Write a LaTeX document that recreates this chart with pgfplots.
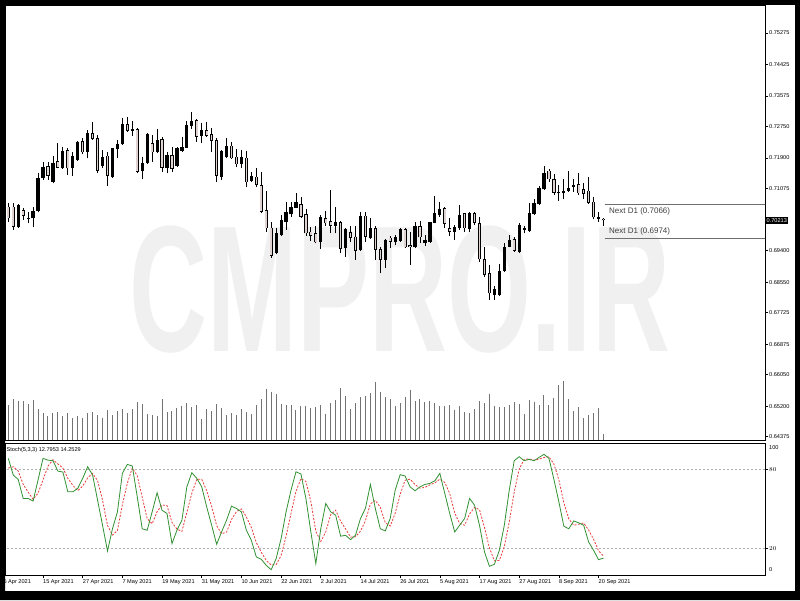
\documentclass[border=0pt]{standalone}
\usepackage{fontspec}
\setmainfont{Liberation Sans}
\usepackage{pgfplots}
\usepackage{pgfplotstable}
\pgfplotsset{compat=1.18}

\definecolor{bearfill}{RGB}{225,210,210}
\definecolor{volgray}{RGB}{115,115,115}
\definecolor{stgreen}{RGB}{50,145,50}
\definecolor{stred}{RGB}{235,60,60}
\definecolor{lvlgray}{RGB}{175,175,175}
\definecolor{wmark}{RGB}{240,240,240}
\definecolor{nextgray}{RGB}{110,110,110}

\newcommand\tinyfont{\fontsize{5.6}{6.5}\selectfont}

% bullish candles: index open high low close
\pgfplotstableread{
i o h l c
2 0.70046 0.70658 0.70019 0.70631
4 0.70262 0.70451 0.70136 0.70289
5 0.70271 0.70586 0.70046 0.70469
6 0.70469 0.71486 0.70433 0.71351
7 0.71351 0.71783 0.71306 0.71666
9 0.71261 0.71963 0.71216 0.71756
11 0.71639 0.72206 0.71603 0.72098
13 0.71621 0.72071 0.71423 0.71963
14 0.71846 0.72359 0.71819 0.72323
16 0.72053 0.72656 0.71891 0.72566
19 0.71684 0.72116 0.71621 0.71936
21 0.71396 0.72179 0.71369 0.72161
22 0.72134 0.72386 0.71891 0.72278
23 0.72269 0.72989 0.72251 0.72809
25 0.72629 0.72899 0.72503 0.72683
27 0.71549 0.71936 0.71333 0.71756
28 0.71756 0.72566 0.71729 0.72539
30 0.72071 0.72683 0.72026 0.72386
32 0.71639 0.72071 0.71486 0.71981
34 0.71693 0.72206 0.71666 0.72161
35 0.72089 0.72476 0.72071 0.72206
36 0.72179 0.72899 0.72161 0.72791
37 0.72773 0.73133 0.72683 0.72908
39 0.72503 0.72836 0.72296 0.72656
43 0.71396 0.72116 0.71306 0.72089
44 0.71936 0.72431 0.71891 0.72233
47 0.71729 0.72116 0.71621 0.71936
49 0.71279 0.71531 0.71261 0.71414
54 0.69326 0.70001 0.69299 0.69866
55 0.69821 0.70361 0.69803 0.70226
56 0.70181 0.70703 0.69956 0.70433
57 0.70379 0.70721 0.70316 0.70586
58 0.70559 0.70946 0.70541 0.70703
63 0.69623 0.70361 0.69443 0.70316
66 0.70073 0.70586 0.69866 0.70163
68 0.69479 0.70019 0.69236 0.69983
71 0.69416 0.70433 0.69389 0.70343
73 0.69749 0.70271 0.69713 0.70001
76 0.69146 0.69713 0.68921 0.69686
78 0.69641 0.69821 0.69551 0.69776
79 0.69659 0.70019 0.69641 0.69983
82 0.69488 0.70181 0.69461 0.70064
84 0.69614 0.69821 0.69524 0.69686
85 0.69641 0.70181 0.69614 0.70163
86 0.70154 0.70874 0.70136 0.70406
87 0.70361 0.70721 0.70316 0.70514
90 0.69911 0.70091 0.69686 0.70028
91 0.70001 0.70631 0.69956 0.70361
93 0.69974 0.70451 0.69911 0.70406
98 0.68201 0.68444 0.68066 0.68354
99 0.68201 0.69038 0.68174 0.68858
100 0.68858 0.69596 0.68831 0.69488
101 0.69506 0.69821 0.69488 0.69686
103 0.69371 0.70154 0.69344 0.70091
104 0.69956 0.70064 0.69866 0.70001
105 0.69938 0.70694 0.69911 0.70424
106 0.70388 0.70784 0.70361 0.70694
107 0.70658 0.71144 0.70631 0.71081
108 0.71054 0.71684 0.71036 0.71504
112 0.70946 0.71324 0.70784 0.71018
113 0.71018 0.71558 0.70991 0.71081
114 0.71126 0.71324 0.70991 0.71180
}\bull

% bearish candles: index open high low close
\pgfplotstableread{
i o h l c
0 0.70586 0.70694 0.70163 0.70271
1 0.70586 0.70694 0.69956 0.70046
3 0.70496 0.70541 0.70226 0.70334
8 0.71684 0.71783 0.71306 0.71423
10 0.71819 0.72296 0.71621 0.71639
12 0.72116 0.72161 0.71441 0.71621
15 0.72359 0.72431 0.71999 0.72053
17 0.72566 0.72863 0.72395 0.72413
18 0.72431 0.72521 0.71486 0.71549
20 0.71963 0.72071 0.71153 0.71423
24 0.72818 0.73016 0.72611 0.72629
26 0.72683 0.72719 0.71486 0.71531
29 0.72296 0.72521 0.71801 0.72053
31 0.72413 0.72476 0.71531 0.71639
33 0.71981 0.72206 0.71531 0.71603
38 0.72926 0.72953 0.72341 0.72476
40 0.72656 0.72881 0.72476 0.72503
41 0.72539 0.72719 0.72071 0.72359
42 0.72386 0.72431 0.71243 0.71423
45 0.72233 0.72323 0.71873 0.71891
46 0.71936 0.72143 0.71666 0.71729
48 0.71909 0.72089 0.71126 0.71243
50 0.71396 0.71621 0.71126 0.71171
51 0.71171 0.71531 0.70406 0.70451
52 0.70496 0.71009 0.69911 0.70001
53 0.70019 0.70163 0.69209 0.69263
59 0.70658 0.70856 0.70289 0.70316
60 0.70379 0.70523 0.69803 0.69866
61 0.69911 0.70046 0.69659 0.69803
62 0.69866 0.70073 0.69596 0.69623
64 0.70271 0.70469 0.70073 0.70136
65 0.70199 0.71036 0.69866 0.70073
67 0.70163 0.70199 0.69326 0.69443
69 0.69893 0.70073 0.69623 0.69749
70 0.69776 0.70073 0.69146 0.69389
72 0.70343 0.70433 0.69641 0.69776
74 0.70001 0.70073 0.69146 0.69416
75 0.69443 0.69506 0.68786 0.69146
77 0.69749 0.69803 0.69461 0.69641
80 0.69974 0.70001 0.69461 0.69488
81 0.69551 0.69911 0.69011 0.69506
83 0.70064 0.70208 0.69596 0.69758
88 0.70541 0.70586 0.70001 0.70118
89 0.70001 0.70271 0.69794 0.69911
92 0.70406 0.70424 0.69911 0.70001
94 0.70406 0.70451 0.70091 0.70154
95 0.70136 0.70316 0.69101 0.69164
96 0.69164 0.69488 0.68678 0.68741
97 0.68786 0.69011 0.68066 0.68246
102 0.69704 0.69776 0.69371 0.69398
109 0.71558 0.71594 0.71261 0.71324
110 0.71324 0.71468 0.70901 0.70964
111 0.70982 0.71171 0.70748 0.70946
115 0.71198 0.71504 0.70901 0.70946
116 0.71054 0.71234 0.70784 0.70928
117 0.71018 0.71378 0.70658 0.70694
118 0.70721 0.70856 0.70244 0.70298
119 0.70298 0.70451 0.70181 0.70262
120 0.70262 0.70271 0.70064 0.70213
}\bear

% tick volume (scaled)
\pgfplotstableread{
i v
0 35.0
1 40.7
2 38.7
3 38.7
4 36.0
5 39.7
6 31.0
7 26.7
8 23.7
9 27.3
10 28.3
11 23.7
12 27.3
13 21.7
14 23.7
15 21.7
16 27.3
17 28.3
18 25.3
19 21.7
20 30.3
21 25.3
22 29.3
23 31.3
24 26.7
25 31.3
26 38.0
27 36.0
28 26.3
29 25.3
30 24.3
31 40.7
32 27.7
33 29.3
34 31.7
35 34.3
36 37.0
37 33.0
38 35.0
39 20.7
40 31.0
41 29.3
42 35.7
43 32.0
44 24.7
45 27.3
46 24.7
47 31.0
48 27.7
49 26.3
50 34.7
51 41.3
52 50.7
53 48.0
54 46.3
55 35.7
56 34.7
57 34.7
58 30.3
59 34.0
60 34.0
61 32.0
62 32.7
63 34.7
64 26.3
65 37.3
66 39.7
67 51.7
68 44.0
69 31.0
70 36.7
71 43.0
72 44.3
73 47.0
74 58.3
75 48.0
76 43.3
77 40.7
78 34.3
79 36.7
80 43.3
81 49.7
82 38.7
83 41.3
84 37.7
85 39.3
86 37.3
87 33.7
88 33.7
89 34.7
90 30.0
91 33.7
92 28.3
93 26.7
94 31.0
95 38.7
96 36.7
97 46.3
98 34.0
99 32.7
100 32.7
101 34.7
102 37.7
103 36.0
104 26.3
105 40.3
106 37.7
107 34.7
108 45.0
109 34.7
110 42.3
111 55.3
112 59.0
113 41.3
114 29.3
115 32.7
116 22.3
117 25.3
118 27.3
119 32.0
120 6.3
}\vol

% stochastic: main (g) and signal (r)
\pgfplotstableread{
i g r
0 88.4 81.0
1 75.7 82.0
2 72.4 78.8
3 58.0 68.7
4 58.0 62.8
5 56.0 57.3
6 72.0 62.0
7 88.4 72.1
8 87.0 82.5
9 86.6 87.3
10 78.7 84.1
11 78.0 81.1
12 63.0 73.2
13 63.0 68.0
14 65.6 63.9
15 73.2 67.3
16 82.0 73.6
17 75.7 77.0
18 56.7 71.5
19 37.7 56.7
20 18.2 37.5
21 35.0 30.3
22 47.8 33.7
23 77.0 53.3
24 83.8 69.5
25 82.5 81.1
26 59.2 75.2
27 35.0 58.9
28 33.9 42.7
29 47.8 38.9
30 62.3 48.0
31 49.0 53.0
32 46.6 52.6
33 23.8 39.8
34 33.9 34.8
35 41.5 33.1
36 66.8 47.4
37 77.5 61.9
38 73.2 72.5
39 66.8 72.5
40 51.6 63.9
41 37.7 52.0
42 23.3 37.5
43 32.6 31.2
44 41.5 32.5
45 52.1 42.1
46 50.4 48.0
47 47.8 50.1
48 33.9 44.0
49 26.3 36.0
50 13.7 24.6
51 11.9 17.3
52 7.3 11.0
53 4.0 7.7
54 12.4 7.9
55 27.6 14.7
56 47.8 29.3
57 64.3 46.6
58 78.2 63.4
59 76.5 73.0
60 58.0 70.9
61 32.6 55.7
62 8.6 33.1
63 35.0 25.4
64 54.2 32.6
65 47.8 45.7
66 45.3 49.1
67 29.4 40.8
68 30.1 34.9
69 26.8 28.8
70 30.1 29.0
71 42.8 33.2
72 50.4 41.1
73 68.6 53.9
74 50.4 56.5
75 35.0 51.3
76 33.4 39.6
77 42.8 37.1
78 64.3 46.8
79 76.0 61.0
80 75.0 71.8
81 66.8 72.6
82 63.8 68.5
83 66.8 65.8
84 68.6 66.4
85 69.4 68.3
86 71.4 69.8
87 77.0 72.6
88 61.8 70.1
89 46.6 61.8
90 32.6 47.0
91 37.7 39.0
92 42.8 37.7
93 58.0 46.2
94 52.9 51.2
95 37.7 49.5
96 17.5 36.0
97 6.6 20.6
98 8.1 10.7
99 18.7 11.1
100 37.7 21.5
101 64.3 40.2
102 86.6 62.9
103 89.6 80.2
104 86.6 87.6
105 87.6 87.9
106 86.6 86.9
107 89.1 87.8
108 91.4 89.0
109 88.4 89.6
110 72.4 84.1
111 55.4 72.1
112 37.0 54.9
113 35.0 42.5
114 41.0 37.7
115 39.5 38.5
116 37.7 39.4
117 25.0 34.1
118 18.7 27.1
119 11.6 18.4
120 12.8 14.25
}\stoch

\pgfplotsset{
  chartwin/.style={scale only axis, width=760pt, xmin=-0.665, xmax=152.56,
    anchor=south west, clip mode=individual,
    axis line style={black, line width=0.8pt},
    tick align=outside, major tick length=3pt,
    tick style={black, line width=0.6pt},
    yticklabel style={anchor=west, inner sep=1pt, font=\tinyfont}},
}

\begin{document}
\begin{tikzpicture}
\fill[white] (0pt,0pt) rectangle (800pt,600pt);
\node[text=wmark, font=\bfseries\fontsize{180}{180}\selectfont, xscale=0.6, inner sep=0pt] at (400pt,310pt) {CMPRO.IR};

% volume, overlaid at the bottom of the price window
\begin{axis}[chartwin, at={(5pt,160pt)}, height=435pt, ymin=0, ymax=435, hide axis]
\addplot[ycomb, volgray, line width=1pt] table[x=i, y=v] {\vol};
\end{axis}

% price window
\begin{axis}[chartwin, at={(5pt,160pt)}, height=435pt,
  ymin=0.64286, ymax=0.76031,
  xtick=\empty,
  ytick pos=right, yticklabel pos=right,
  ytick={0.75275,0.74425,0.73575,0.72750,0.71900,0.71075,0.69400,0.68550,0.67725,0.66875,0.66050,0.65200,0.64375},
  yticklabels={0.75275,0.74425,0.73575,0.72750,0.71900,0.71075,0.69400,0.68550,0.67725,0.66875,0.66050,0.65200,0.64375}]
% wicks (low to high)
\addplot[draw=none, mark=none, error bars/.cd, y dir=plus, y explicit, error mark=none,
  error bar style={draw=black, line width=0.8pt}]
  table[x=i, y=l, y error plus expr=\thisrow{h}-\thisrow{l}] {\bull};
\addplot[draw=none, mark=none, error bars/.cd, y dir=plus, y explicit, error mark=none,
  error bar style={draw=black, line width=0.8pt}]
  table[x=i, y=l, y error plus expr=\thisrow{h}-\thisrow{l}] {\bear};
% bodies (open to close)
\addplot[draw=none, mark=none, error bars/.cd, y dir=plus, y explicit, error mark=none,
  error bar style={draw=black, line width=3.2pt, line cap=butt}]
  table[x=i, y=o, y error plus expr=\thisrow{c}-\thisrow{o}] {\bull};
\addplot[draw=none, mark=none, error bars/.cd, y dir=plus, y explicit, error mark=none,
  error bar style={draw=black, line width=3.2pt, line cap=butt}]
  table[x=i, y=c, y error plus expr=\thisrow{o}-\thisrow{c}] {\bear};
\addplot[draw=none, mark=none, error bars/.cd, y dir=plus, y explicit, error mark=none,
  error bar style={draw=bearfill, line width=1.6pt, line cap=butt}]
  table[x=i, y expr=\thisrow{c}+0.0002, y error plus expr={max(\thisrow{o}-\thisrow{c}-0.0004,0)}] {\bear};
% next D1 levels
\addplot[nextgray, line width=0.8pt] coordinates {(120.2,0.7066) (153,0.7066)};
\addplot[nextgray, line width=0.8pt] coordinates {(120.2,0.6974) (153,0.6974)};
\node[anchor=west, inner sep=0pt, text=black!75, font=\fontsize{8}{9}\selectfont] at (axis cs:121.1,0.7045) {Next D1 (0.7066)};
\node[anchor=west, inner sep=0pt, text=black!75, font=\fontsize{8}{9}\selectfont] at (axis cs:121.1,0.6993) {Next D1 (0.6974)};
\node[anchor=west, fill=black, text=white, inner xsep=1.5pt, inner ysep=1.8pt, font=\tinyfont] at (axis cs:152.56,0.70213) {0.70213};
\end{axis}

% stochastic window
\begin{axis}[chartwin, at={(5pt,25pt)}, height=132pt,
  ymin=0, ymax=100,
  xtick={7,15,...,119},
  xticklabels={15 Apr 2021,27 Apr 2021,7 May 2021,19 May 2021,31 May 2021,10 Jun 2021,22 Jun 2021,2 Jul 2021,14 Jul 2021,26 Jul 2021,5 Aug 2021,17 Aug 2021,27 Aug 2021,8 Sep 2021,20 Sep 2021},
  xtick pos=bottom,
  ytick={20,80}, ytick pos=right, yticklabel pos=right,
  xticklabel style={anchor=north west, inner sep=1pt, xshift=-1pt, font=\tinyfont}]
\addplot[lvlgray, line width=0.6pt, dash pattern=on 2pt off 2pt] coordinates {(-1,20) (153,20)};
\addplot[lvlgray, line width=0.6pt, dash pattern=on 2pt off 2pt] coordinates {(-1,80) (153,80)};
\addplot[stred, line width=0.8pt, dash pattern=on 2pt off 1.5pt] table[x=i, y=r] {\stoch};
\addplot[stgreen, line width=0.8pt] table[x=i, y=g] {\stoch};
\node[anchor=north west, inner sep=0pt, font=\tinyfont] at (rel axis cs:0,1) [xshift=1.5pt, yshift=-4pt] {Stoch(5,3,3) 12.7953 14.2529};
\node[anchor=west, inner sep=1pt, font=\tinyfont] at (axis cs:152.56,96.2) [xshift=3pt] {100};
\node[anchor=west, inner sep=1pt, font=\tinyfont] at (axis cs:152.56,3.8) [xshift=3pt] {0};
\node[anchor=north west, inner sep=1pt, font=\tinyfont] at (axis cs:-1,0) [xshift=-1pt, yshift=-3pt] {5 Apr 2021};
\end{axis}

% black window frame
\fill[black, even odd rule] (0pt,0pt) rectangle (800pt,600pt) (5pt,9pt) rectangle (795pt,595pt);
\pgfresetboundingbox
\path[use as bounding box] (0pt,0pt) rectangle (800pt,600pt);
\end{tikzpicture}
\end{document}
